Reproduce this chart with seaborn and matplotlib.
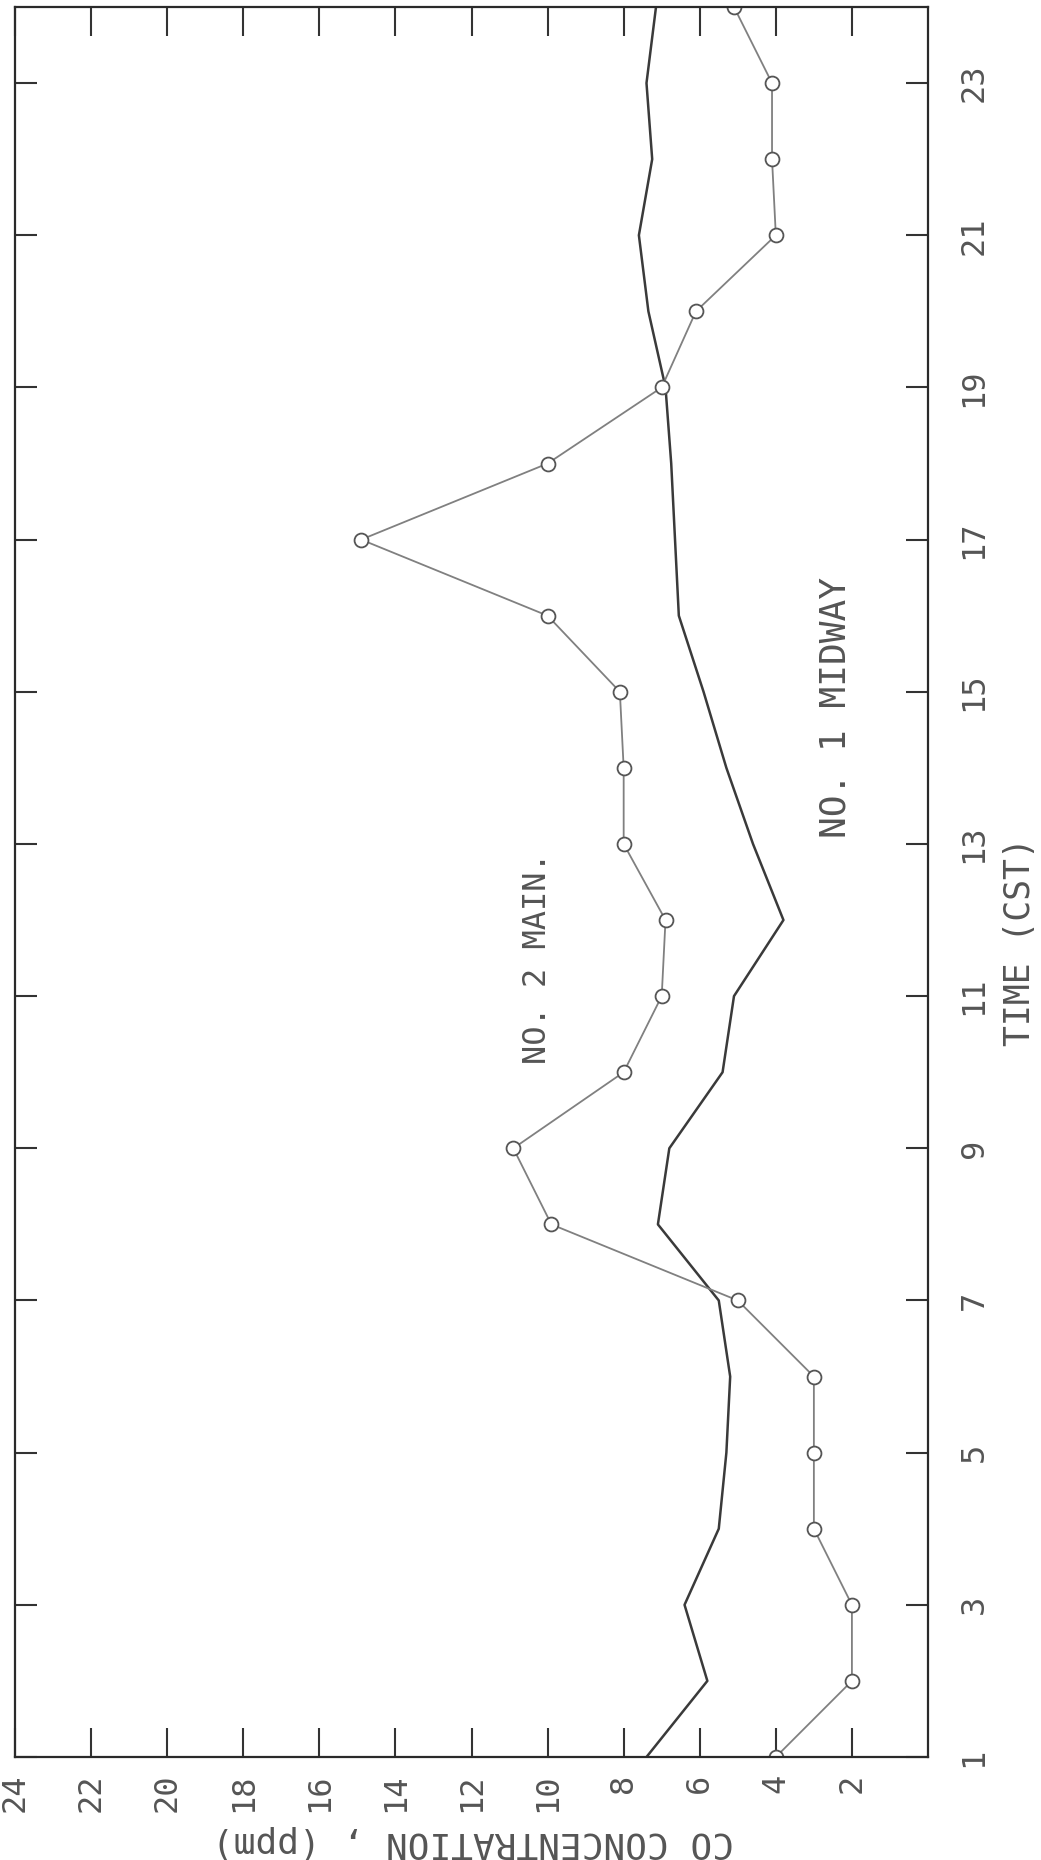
import matplotlib
matplotlib.use("Agg")
import matplotlib.pyplot as plt
import seaborn as sns
import pandas as pd

# ---- data ----
hours = list(range(1, 25))
no2_main = [4.0, 2.0, 2.0, 3.0, 3.0, 3.0, 5.0, 9.9, 10.9, 8.0, 7.0, 6.9,
            8.0, 8.0, 8.1, 10.0, 14.9, 10.0, 7.0, 6.1, 4.0, 4.1, 4.1, 5.1]
no1_midway = [7.4, 5.8, 6.4, 5.5, 5.3, 5.2, 5.5, 7.1, 6.8, 5.4, 5.1, 3.8,
              4.6, 5.3, 5.9, 6.55, 6.65, 6.75, 6.9, 7.35, 7.6, 7.25, 7.4, 7.15]
conc_ticks = [2, 4, 6, 8, 10, 12, 14, 16, 18, 20, 22, 24]
hour_ticks = [1, 3, 5, 7, 9, 11, 13, 15, 17, 19, 21, 23]
label_main = "NO. 2 MAIN."
label_midway = "NO. 1 MIDWAY"
xlabel_text = "CO CONCENTRATION , (ppm)"
ylabel_text = "TIME (CST)"

df_main = pd.DataFrame({"hour": hours, "conc": no2_main})
df_mid = pd.DataFrame({"hour": hours, "conc": no1_midway})

sns.set_style("white")
plt.rcParams["font.family"] = ["DejaVu Sans Mono", "DejaVu Sans"]

fig = plt.figure(figsize=(10.41, 18.6), dpi=100)
ax = fig.add_axes([15 / 1041, 103 / 1860, 913 / 1041, 1750 / 1860])

sns.lineplot(data=df_mid, x="conc", y="hour", sort=False, estimator=None,
             orient="y", ax=ax, color="#3a3a3a", linewidth=1.8)
sns.lineplot(data=df_main, x="conc", y="hour", sort=False, estimator=None,
             orient="y", ax=ax, color="#808080", linewidth=1.3,
             marker="o", markersize=10, markerfacecolor="white",
             markeredgecolor="#555555", markeredgewidth=1.3)

ax.set_xlim(24, 0)
ax.set_ylim(1, 24)

ax.set_xticks(conc_ticks)
ax.set_xticklabels([str(v) for v in conc_ticks], rotation=90,
                   fontsize=23, color="#555555")
ax.set_yticks(hour_ticks)
ax.set_yticklabels([str(v) for v in hour_ticks], rotation=90,
                   fontsize=23, color="#555555", va="center")

ax.tick_params(axis="x", which="both", direction="in", length=21, width=1.5,
               color="#333333", top=True, bottom=True, labelbottom=True,
               labeltop=False, pad=12)
ax.tick_params(axis="y", which="both", direction="in", length=16, width=1.5,
               color="#333333", left=True, right=True, labelleft=False,
               labelright=True, pad=22)

for sp in ax.spines.values():
    sp.set_visible(True)
    sp.set_color("#2a2a2a")
    sp.set_linewidth(1.6)

ax.set_xlabel("")
ax.set_ylabel("")
ax.grid(False)

ax.text(0.572, 0.4566, label_main, transform=ax.transAxes, rotation=90,
        ha="center", va="center", fontsize=23, color="#555555")
ax.text(0.899, 0.60, label_midway, transform=ax.transAxes, rotation=90,
        ha="center", va="center", fontsize=26, color="#555555")

fig.text(0.98, 0.4935, ylabel_text, rotation=90, ha="center", va="center",
         fontsize=25, color="#555555")
fig.text(0.4544, 0.0097, xlabel_text, rotation=180, ha="center",
         va="center", fontsize=26, color="#555555")

fig.savefig("out.png", dpi=100)
